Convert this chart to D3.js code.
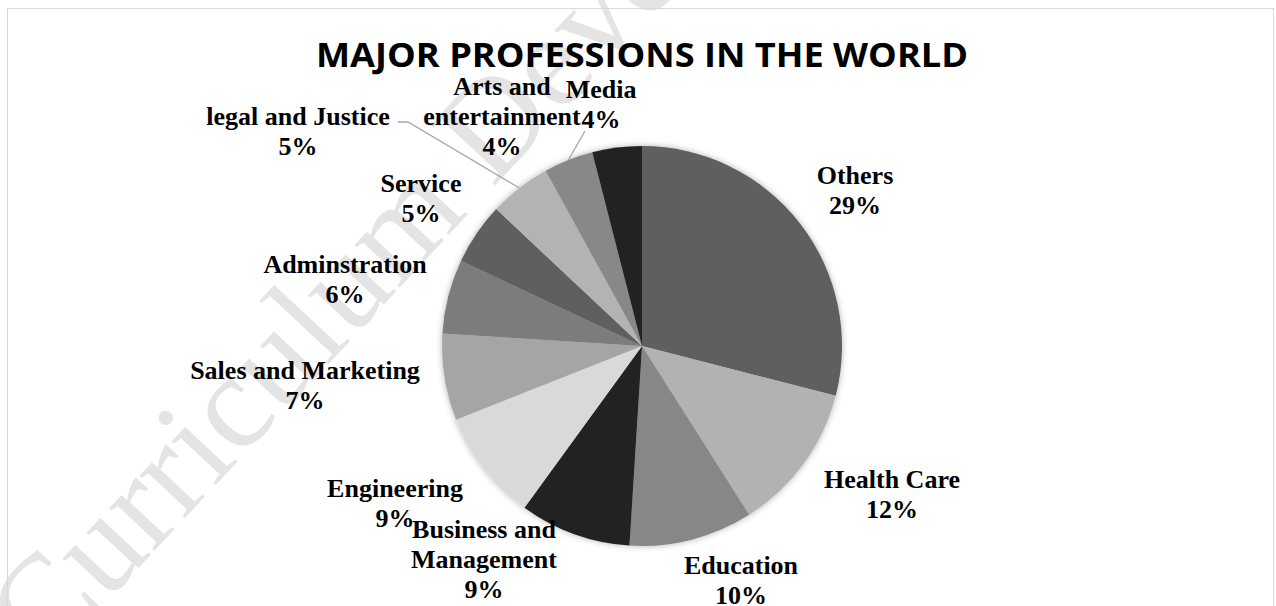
<!DOCTYPE html>
<html>
<head>
<meta charset="utf-8">
<script src="https://cdn.jsdelivr.net/npm/d3@7"></script>
<style>
  html, body { margin: 0; padding: 0; background: #ffffff; }
  svg { display: block; }
</style>
</head>
<body>
<svg id="chart" width="1276" height="606"></svg>
<script>
// Professions and their share of the workforce (percent)
const categories = [
  "Others", "Health Care", "Education", "Business and Management",
  "Engineering", "Sales and Marketing", "Adminstration", "Service",
  "legal and Justice", "Arts and entertainment", "Media"
];
const shares = [29, 12, 10, 9, 9, 7, 6, 5, 5, 4, 4];

// Label text split into lines as printed
const labelLines = [
  ["Others"], ["Health Care"], ["Education"], ["Business and", "Management"],
  ["Engineering"], ["Sales and Marketing"], ["Adminstration"], ["Service"],
  ["legal and Justice"], ["Arts and", "entertainment"], ["Media"]
];

// Greyscale slice fills
const sliceColors = [
  "#5f5f5f", "#b2b2b2", "#878787", "#222222", "#d9d9d9", "#a5a5a5",
  "#7c7c7c", "#5e5e5e", "#b3b3b3", "#888888", "#222222"
];

const titleText = "MAJOR PROFESSIONS IN THE WORLD";

// Layout
const W = 1276, H = 606;
const cx = 642, cy = 346, R = 200;
const lineH = 30;
// label anchor: centre x and first baseline, relative to the pie centre
const labelAnchor = [
  [213, -162], [250, 142], [99, 228], [-158, 192],
  [-247, 151], [-337, 33], [-297, -73], [-221, -154],
  [-344, -221], [-140, -251], [-41, -248]
];

const svg = d3.select("#chart");

// Watermark behind everything
svg.append("text")
  .attr("transform", "translate(45,668) rotate(-47)")
  .attr("font-family", "Liberation Serif, Times New Roman, serif")
  .attr("font-size", 135)
  .attr("fill", "#e4e4e4")
  .text("Curriculum Development");

// Chart area frame
svg.append("rect")
  .attr("x", 7.5).attr("y", 8.5)
  .attr("width", 1266).attr("height", 640)
  .attr("fill", "none")
  .attr("stroke", "#d9d9d9")
  .attr("stroke-width", 1);

// Title
svg.append("text")
  .attr("x", 642).attr("y", 67)
  .attr("text-anchor", "middle")
  .attr("font-family", "Open Sans, Noto Sans, sans-serif")
  .attr("font-weight", 700)
  .attr("font-size", 34)
  .attr("textLength", 652)
  .attr("lengthAdjust", "spacingAndGlyphs")
  .attr("fill", "#000")
  .text(titleText);

// Soft shadow around the pie
const defs = svg.append("defs");
const f = defs.append("filter").attr("id", "pieShadow")
  .attr("x", "-10%").attr("y", "-10%").attr("width", "120%").attr("height", "120%");
f.append("feDropShadow")
  .attr("dx", 0).attr("dy", 0)
  .attr("stdDeviation", 3)
  .attr("flood-color", "#000")
  .attr("flood-opacity", 0.3);

const data = categories.map((c, i) => ({ name: c, value: shares[i], i }));
const pie = d3.pie().value(d => d.value).sort(null);
const arcs = pie(data);
const arc = d3.arc().innerRadius(0).outerRadius(R);

const g = svg.append("g").attr("transform", `translate(${cx},${cy})`);

g.append("g").attr("filter", "url(#pieShadow)")
  .selectAll("path")
  .data(arcs)
  .enter().append("path")
  .attr("d", arc)
  .attr("fill", d => sliceColors[d.data.i]);

// Leader lines for the crowded labels near the top
function edgePoint(i) {
  const a = arcs[i];
  const m = (a.startAngle + a.endAngle) / 2;
  return [R * Math.sin(m), -R * Math.cos(m)];
}
const leaders = [
  { i: 8, from: [[-244, -224], [-234, -224]] },
  { i: 9, from: [[-57, -215]] }
];
leaders.forEach(l => {
  const pts = l.from.concat([edgePoint(l.i)]);
  g.append("path")
    .attr("d", d3.line()(pts))
    .attr("fill", "none")
    .attr("stroke", "#a6a6a6")
    .attr("stroke-width", 1.3);
});

// Data labels: category name + percentage
const pct = d3.format(".0%");
const labels = g.selectAll("text.lbl")
  .data(arcs)
  .enter().append("text")
  .attr("class", "lbl")
  .attr("text-anchor", "middle")
  .attr("font-family", "Liberation Serif, Times New Roman, serif")
  .attr("font-weight", 700)
  .attr("font-size", 26)
  .attr("fill", "#000");

labels.each(function(d) {
  const t = d3.select(this);
  const [ax, ay] = labelAnchor[d.data.i];
  const lines = labelLines[d.data.i].concat([pct(d.data.value / 100)]);
  lines.forEach((s, k) => {
    t.append("tspan")
      .attr("x", ax)
      .attr("y", ay + k * lineH)
      .text(s);
  });
});
</script>
</body>
</html>
